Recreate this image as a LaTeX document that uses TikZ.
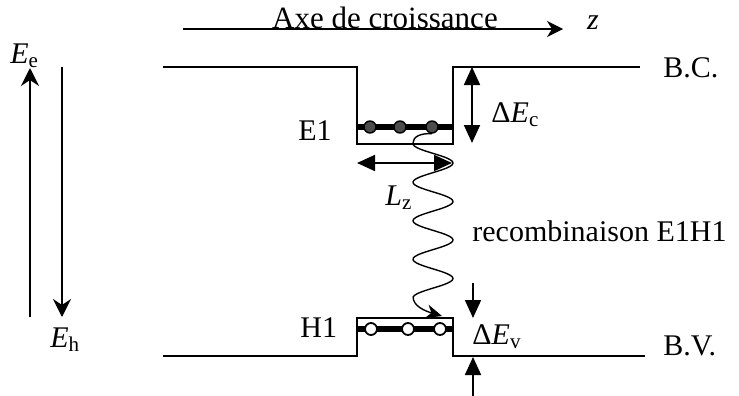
\documentclass[tikz,border=0pt]{standalone}
\usepackage{fontspec}
\setmainfont{Liberation Serif}
\usetikzlibrary{arrows.meta}
\tikzset{
  band/.style={line width=1pt,black},
  lvl/.style={line width=2.6pt,black},
  elec/.style={circle,draw=black,fill=black!70,line width=0.7pt,minimum size=6pt,inner sep=0pt},
  hole/.style={circle,draw=black,fill=white,line width=0.9pt,minimum size=6pt,inner sep=0pt},
  axis/.style={-{Stealth[length=8pt,width=8pt,inset=2.5pt]},line width=0.7pt},
  energy/.style={-{Stealth[length=9pt,width=9pt,inset=3pt]},line width=0.9pt},
  gap/.style={{Triangle[length=9pt,width=8pt]}-{Triangle[length=9pt,width=8pt]},line width=0.9pt},
  push/.style={-{Triangle[length=9pt,width=8pt]},line width=0.9pt},
  photon/.style={line width=0.7pt,-{Stealth[length=8pt,width=7pt,inset=2.5pt]}},
  lab/.style={font=\fontsize{15}{18}\selectfont,inner sep=0pt},
}
\begin{document}
\begin{tikzpicture}[x=0.5pt,y=-0.5pt]
  \useasboundingbox (0,0) rectangle (739,396);
  % growth axis
  \coordinate (ax0) at (183,29);
  \coordinate (ax1) at (563,29);
  \draw[axis] (ax0) -- (ax1);
  \node[lab,anchor=base,font=\fontsize{15.5}{18}\selectfont] (axe) at (385,28) {Axe de croissance};
  \node[lab,anchor=base] (zlab) at (593,29) {\textit{z}};
  % energy directions
  \coordinate (ee0) at (30,317);
  \coordinate (ee1) at (30,68);
  \coordinate (eh0) at (62,67);
  \coordinate (eh1) at (62,317);
  \draw[energy] (ee0) -- (ee1);
  \draw[energy] (eh0) -- (eh1);
  \node[lab,anchor=base west] (elab) at (10,63) {\textit{E}\textsubscript{e}};
  \node[lab,anchor=base west] (hlab) at (50,347) {\textit{E}\textsubscript{h}};
  % conduction band
  \draw[band] (163,67) -- (357,67) -- (357,144) -- (453,144) -- (453,67) -- (640,67);
  \draw[lvl] (357,127) -- (452,127);
  \foreach \x/\n in {370/1,400/2,432/3}
    \node[elec] (e\n) at (\x,127) {};
  \node[lab,anchor=base west] (bc) at (663,77) {B.C.};
  \node[lab,anchor=base west] (E1) at (298,140) {E1};
  % valence band
  \draw[band] (163,356) -- (357,356) -- (357,318) -- (453,318) -- (453,356) -- (645,356);
  \draw[lvl] (357,329) -- (452,329);
  \foreach \x/\n in {371/1,408/2,440/3}
    \node[hole] (h\n) at (\x,329) {};
  \node[lab,anchor=base west] (bv) at (663,355) {B.V.};
  \node[lab,anchor=base west] (H1) at (300,337) {H1};
  % offsets and width
  \coordinate (c0) at (472,67);
  \coordinate (c1) at (472,143);
  \draw[gap] (c0) -- (c1);
  \node[lab,anchor=base west] (dec) at (491,122) {Δ\textit{E}\textsubscript{c}};
  \coordinate (lz0) at (357,163);
  \coordinate (lz1) at (452,163);
  \draw[gap] (lz0) -- (lz1);
  \node[lab,anchor=base west] (lz) at (385,205) {\textit{L}\textsubscript{z}};
  \coordinate (v0) at (473,283);
  \coordinate (v1) at (473,318);
  \coordinate (v2) at (473,396);
  \coordinate (v3) at (473,357);
  \draw[push] (v0) -- (v1);
  \draw[push] (v2) -- (v3);
  \node[lab,anchor=base west] (dev) at (472,344) {Δ\textit{E}\textsubscript{v}};
  % recombination
  \coordinate (tip) at (442,316);
  \draw[photon] (e3.south) .. controls (420,133) and (413,137) .. (413,143)
    -- plot[domain=143:297,samples=100,smooth] ({433+20*cos((\x-163)*9.3506)},\x)
    .. controls (413,306) and (425,311) .. (tip);
  \node[lab,anchor=base west] (rec) at (472,241) {recombinaison E1H1};
\end{tikzpicture}
\end{document}
